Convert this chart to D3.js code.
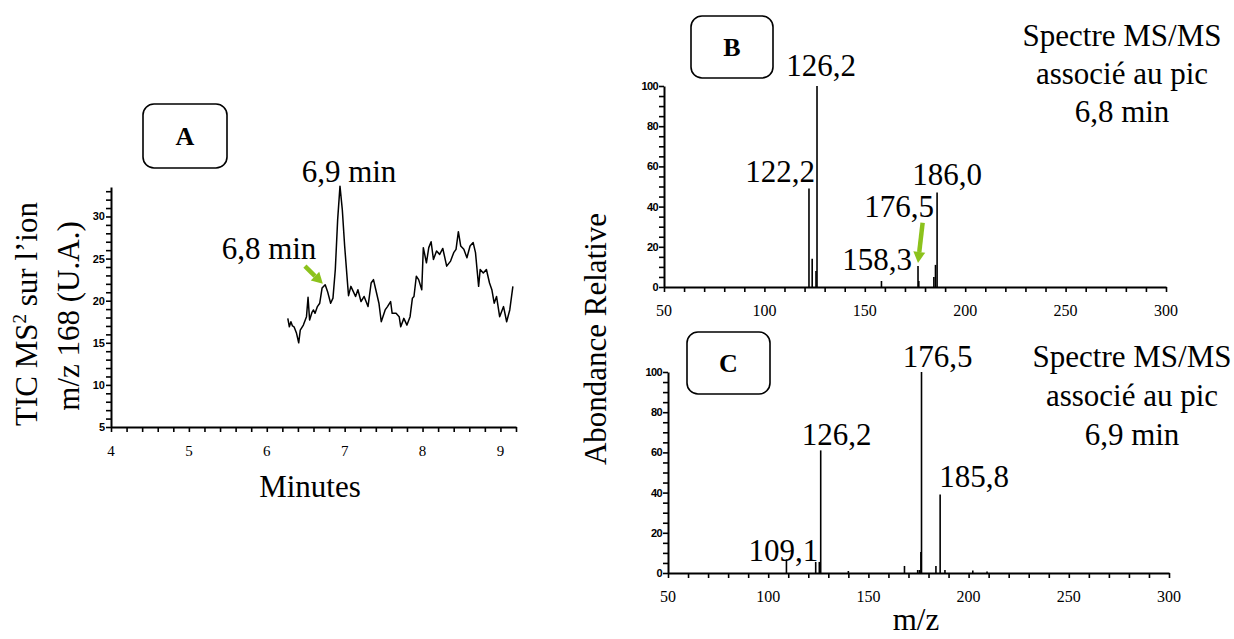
<!DOCTYPE html>
<html><head><meta charset="utf-8">
<script src="https://cdn.jsdelivr.net/npm/d3@7"></script>
<style>body{margin:0;background:#fff}svg{display:block}</style>
</head><body><svg id="c" width="1234" height="639"></svg>
<script>
// ---------- DATA ----------
// Panel A: TIC MS2 chromatogram (time in min, signal in U.A.)
const timeA = [6.27,6.29,6.31,6.33,6.35,6.38,6.41,6.43,6.47,6.51,6.53,6.55,6.58,6.6,6.62,6.65,6.68,6.71,6.75,6.78,6.82,6.85,6.88,6.91,6.94,6.97,7.0,7.04,7.05,7.08,7.11,7.14,7.17,7.21,7.25,7.3,7.34,7.37,7.4,7.44,7.47,7.52,7.55,7.59,7.61,7.66,7.7,7.72,7.76,7.8,7.84,7.87,7.89,7.92,7.95,7.99,8.01,8.05,8.08,8.11,8.14,8.18,8.22,8.26,8.31,8.36,8.4,8.43,8.46,8.49,8.53,8.57,8.61,8.65,8.68,8.72,8.74,8.78,8.82,8.86,8.89,8.92,8.95,8.99,9.04,9.08,9.12,9.16];
const ticA  = [17.9,16.9,17.5,17.0,16.9,16.2,15.0,16.5,17.1,18.1,20.4,17.7,18.6,18.9,18.5,19.3,19.7,21.5,21.9,21.1,19.7,20.3,23.7,29.6,33.6,30.8,26.5,21.7,20.6,21.7,21.1,20.5,21.3,19.9,20.5,19.3,22.1,22.5,21.3,19.7,17.5,18.9,19.3,19.9,18.5,18.5,18.1,16.9,17.9,17.1,18.1,20.3,20.5,22.9,22.5,21.3,26.3,24.5,26.3,27.0,24.9,25.9,25.5,26.2,24.1,24.7,25.7,26.1,28.2,26.5,26.1,25.1,26.5,26.9,25.7,21.7,23.7,23.3,23.7,22.1,21.3,19.7,20.5,18.1,19.3,17.5,18.9,21.7];
// Panel B: MS/MS spectrum of 6,8 min peak
const mzB = [122.2,123.8,125.7,126.2,158.3,176.5,176.9,184.4,185.2,186.0];
const abB = [49,14,8,100,3,10.5,3,5,11,47];
// Panel C: MS/MS spectrum of 6,9 min peak
const mzC = [109.1,123.7,125.5,126.2,140.0,168.0,174.6,175.5,176.2,176.5,183.7,185.8,188.2,202.1,209.2];
const abC = [6.8,5.5,5.5,61,1,3.5,1.5,1.5,10.5,100,3.5,39,1.5,1.2,0.8];
// Tick labels
const xTicksA = [4,5,6,7,8,9];
const yTicksA = [5,10,15,20,25,30];
const xTicksMS = [50,100,150,200,250,300];
const yTicksMS = [0,20,40,60,80,100];
// Peak labels
const peakLabelsB = ["126,2","122,2","186,0","176,5","158,3"];
const peakMzB = [126.2,122.2,186.0,176.5,158.3];
const peakLabelsC = ["176,5","126,2","185,8","109,1"];
const peakMzC = [176.5,126.2,185.8,109.1];

// ---------- DRAW ----------
const svg = d3.select("#c");
const SERIF = "'Liberation Serif','Times New Roman',serif";
const SANS = "'Liberation Sans',Arial,sans-serif";
const GREEN = "#8cc21c";
const BIG = 31;

function txt(g, x, y, s, size, anchor, weight, family) {
  return g.append("text").attr("x", x).attr("y", y).text(s)
    .attr("font-family", family || SERIF).attr("font-size", size)
    .attr("font-weight", weight || "normal").attr("text-anchor", anchor || "middle").attr("fill", "#000");
}
function styleAxis(g) {
  g.select(".domain").attr("stroke", "#000").attr("stroke-width", 2);
  g.selectAll(".tick line").attr("stroke", "#000").attr("stroke-width", 1.6);
  g.selectAll(".tick text").remove();
}
function box(x, y, w, h, letter) {
  svg.append("rect").attr("x", x).attr("y", y).attr("width", w).attr("height", h)
    .attr("rx", 11).attr("fill", "#fff").attr("stroke", "#000").attr("stroke-width", 1.6);
  txt(svg, x + w / 2, y + h / 2 + 9, letter, 26, "middle", "bold");
}
function arrow(x1, y1, x2, y2) {
  const ang = Math.atan2(y2 - y1, x2 - x1), L = 11, W = 6;
  const bx = x2 - L * Math.cos(ang), by = y2 - L * Math.sin(ang);
  svg.append("line").attr("x1", x1).attr("y1", y1).attr("x2", bx).attr("y2", by)
    .attr("stroke", GREEN).attr("stroke-width", 4.5);
  const px = -Math.sin(ang) * W, py = Math.cos(ang) * W;
  svg.append("path").attr("d", `M${x2},${y2}L${bx + px},${by + py}L${bx - px},${by - py}Z`).attr("fill", GREEN);
}

// ---- Panel A ----
const xA = d3.scaleLinear().domain([4, 9.2]).range([111, 516]);
const yA = d3.scaleLinear().domain([5, 33.5]).range([427, 187]);
const gAx = svg.append("g").attr("transform", `translate(0,${yA(5)})`)
  .call(d3.axisBottom(xA).tickValues(d3.range(0, 27).map(i => 4 + i * 0.2)).tickSize(5).tickSizeOuter(0));
styleAxis(gAx);
const gAy = svg.append("g").attr("transform", `translate(${xA(4)},0)`)
  .call(d3.axisLeft(yA).tickValues(d3.range(5, 34)).tickSize(5).tickSizeOuter(0));
styleAxis(gAy);
xTicksA.forEach(v => txt(svg, xA(v), 456, v, 15, "middle"));
yTicksA.forEach(v => txt(svg, 105, yA(v) + 4, v, 11, "end", "bold", SANS));
svg.append("path").datum(timeA.map((t, i) => [t, ticA[i]]))
  .attr("d", d3.line().x(d => xA(d[0])).y(d => yA(d[1])))
  .attr("fill", "none").attr("stroke", "#000").attr("stroke-width", 1.5).attr("stroke-linejoin", "round");
txt(svg, 310, 497, "Minutes", BIG);
const ya = svg.append("g").attr("transform", "translate(37,314) rotate(-90)");
const t1 = ya.append("text").attr("text-anchor", "middle").attr("font-family", SERIF).attr("font-size", BIG);
t1.append("tspan").text("TIC MS");
t1.append("tspan").text("2").attr("font-size", 19).attr("dy", -11);
t1.append("tspan").text(" sur l\u2019ion").attr("dy", 11);
const ya2 = svg.append("g").attr("transform", "translate(79,316) rotate(-90)");
txt(ya2, 0, 0, "m/z 168 (U.A.)", BIG);
box(143, 104, 84, 64, "A");
txt(svg, 349, 182, "6,9 min", BIG);
txt(svg, 269, 259, "6,8 min", BIG);
arrow(xA(6.49), yA(24.1), xA(6.72), yA(22.0));

// ---- Panels B & C ----
function spectrum(x0, x1, y0, y100, mz, ab, xLabelY) {
  const x = d3.scaleLinear().domain([50, 300]).range([x0, x1]);
  const y = d3.scaleLinear().domain([0, 100]).range([y0, y100]);
  const gx = svg.append("g").attr("transform", `translate(0,${y0})`)
    .call(d3.axisBottom(x).tickValues(d3.range(50, 301, 10)).tickSize(5).tickSizeOuter(0));
  styleAxis(gx);
  const gy = svg.append("g").attr("transform", `translate(${x0},0)`)
    .call(d3.axisLeft(y).tickValues(d3.range(0, 101, 5)).tickSize(5).tickSizeOuter(0));
  styleAxis(gy);
  xTicksMS.forEach(v => txt(svg, x(v), xLabelY, v, 16, "middle"));
  yTicksMS.forEach(v => txt(svg, x0 - 6, y(v) + 4, v, 11, "end", "bold", SANS).attr("letter-spacing", -0.6));
  svg.append("g").selectAll("line").data(mz).join("line")
    .attr("x1", d => x(d)).attr("x2", d => x(d))
    .attr("y1", y(0)).attr("y2", (d, i) => y(ab[i]))
    .attr("stroke", "#000").attr("stroke-width", 1.6);
  return { x, y };
}
const B = spectrum(664, 1166, 287, 86, mzB, abB, 316);
const C = spectrum(668, 1169, 573, 372, mzC, abC, 602);

box(691, 16, 82, 62, "B");
box(687, 332, 83, 62, "C");

// labels B
txt(svg, B.x(peakMzB[0]) + 4, 76, peakLabelsB[0], BIG, "middle");
txt(svg, B.x(peakMzB[1]) + 6, 182, peakLabelsB[1], BIG, "end");
txt(svg, B.x(peakMzB[2]) + 10, 185, peakLabelsB[2], BIG, "middle");
txt(svg, B.x(peakMzB[3]) + 16, 217, peakLabelsB[3], BIG, "end");
txt(svg, B.x(peakMzB[3]) - 6, 270, peakLabelsB[4], BIG, "end");
arrow(B.x(178.8), B.y(32), B.x(176.5), B.y(12));
// labels C
txt(svg, C.x(peakMzC[0]) + 16, 367, peakLabelsC[0], BIG, "middle");
txt(svg, C.x(peakMzC[1]) + 16, 445, peakLabelsC[1], BIG, "middle");
txt(svg, C.x(peakMzC[2]) - 1, 487, peakLabelsC[2], BIG, "start");
txt(svg, C.x(peakMzC[3]) - 3, 561, peakLabelsC[3], BIG, "middle");

txt(svg, 1122, 46, "Spectre MS/MS", BIG);
txt(svg, 1122, 84, "associ\u00e9 au pic", BIG);
txt(svg, 1122, 122, "6,8 min", BIG);
txt(svg, 1132, 367, "Spectre MS/MS", BIG);
txt(svg, 1132, 406, "associ\u00e9 au pic", BIG);
txt(svg, 1132, 445, "6,9 min", BIG);

const yt = svg.append("g").attr("transform", "translate(606,339) rotate(-90)");
txt(yt, 0, 0, "Abondance Relative", BIG);
txt(svg, 916, 630, "m/z", BIG);
</script></body></html>
